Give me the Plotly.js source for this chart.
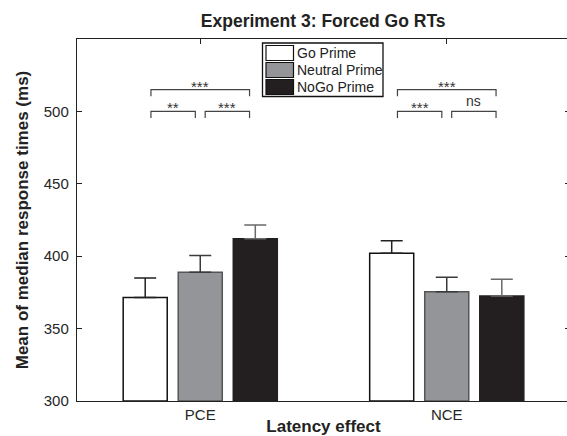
<!DOCTYPE html>
<html>
<head>
<meta charset="utf-8">
<script src="https://cdn.plot.ly/plotly-3.0.1.min.js"></script>
<style>
html,body{margin:0;padding:0;overflow:hidden;background:#fff;}
#chart{width:570px;height:436px;}
</style>
</head>
<body>
<div id="chart"></div>
<script>
// ---- data ----
const categories = ['PCE', 'NCE'];
const seriesNames = ['Go Prime', 'Neutral Prime', 'NoGo Prime'];
const goPrime = [371.5, 402];
const neutralPrime = [389, 375.5];
const nogoPrime = [412, 372.5];
const goPrimeErr = [13.5, 8.7];
const neutralPrimeErr = [11.5, 10];
const nogoPrimeErr = [9.5, 11.5];
const yTickVals = [300, 350, 400, 450, 500];
// significance comparisons (offsets from category centre)
const compLeft = [-0.2, -0.2, 0.02];
const compRight = [0.2, -0.02, 0.2];
const compLevel = [515, 500, 500];
const pceLabels = ['***', '**', '***'];
const nceLabels = ['***', '***', 'ns'];

// ---- styles ----
const fills = ['#ffffff', '#939598', '#231f20'];
const outlines = ['#111111', '#555555', '#231f20'];
const errColors = ['#222222', '#3a3a3a', '#6a6a6a'];
const FONT = 'Liberation Sans, Arial, Helvetica, sans-serif';

const W = 570, H = 436;
const M = {l: 77, r: 0, t: 39, b: 35};
const xPos = categories.map((c, i) => i + 1);
const values = [goPrime, neutralPrime, nogoPrime];
const errs = [goPrimeErr, neutralPrimeErr, nogoPrimeErr];

const traces = values.map((v, k) => ({
  type: 'bar',
  x: xPos,
  y: v.map(d => d - 300),
  base: 300,
  name: seriesNames[k],
  showlegend: false,
  marker: {color: fills[k], line: {color: outlines[k], width: 1.5}},
  error_y: {type: 'data', array: errs[k], arrayminus: errs[k].map(() => 0),
            symmetric: false, color: errColors[k], thickness: 1.5, width: 11},
  hoverinfo: 'skip'
}));

// brackets
const labelsByCat = [pceLabels, nceLabels];
const annotations = [];
xPos.forEach((cx, ci) => {
  compLeft.forEach((lo, j) => {
    const x0 = cx + lo, x1 = cx + compRight[j], yl = compLevel[j];
    traces.push({
      type: 'scatter', mode: 'lines', x: [x0, x0, x1, x1], y: [yl - 4.5, yl, yl, yl - 4.5],
      line: {color: '#444', width: 1.2}, showlegend: false, hoverinfo: 'skip'
    });
    const lab = labelsByCat[ci][j];
    const star = lab.indexOf('*') >= 0;
    annotations.push({
      x: (x0 + x1) / 2, y: yl, xref: 'x', yref: 'y', text: lab, showarrow: false,
      yanchor: 'bottom', yshift: star ? -7 : 0,
      font: {family: FONT, size: star ? 15 : 14, color: '#333'}
    });
  });
});

// custom legend (matlab-style swatches) in paper coordinates
const pw = W - M.l - M.r, ph = H - M.t - M.b;
const px = X => (X - M.l) / pw;
const py = Y => 1 - (Y - M.t) / ph;
const shapes = [{
  type: 'rect', xref: 'paper', yref: 'paper',
  x0: px(262.5), x1: px(383), y0: py(96.5), y1: py(43),
  line: {color: '#111', width: 1.3}, fillcolor: '#fff'
}];
seriesNames.forEach((nm, k) => {
  const top = 45.5 + k * 17;
  shapes.push({
    type: 'rect', xref: 'paper', yref: 'paper',
    x0: px(266), x1: px(293.5), y0: py(top + 15), y1: py(top),
    line: {color: '#111', width: 1.2}, fillcolor: fills[k]
  });
  annotations.push({
    x: px(295), y: py(top + 7.5), xref: 'paper', yref: 'paper', text: nm,
    showarrow: false, xanchor: 'left', yanchor: 'middle',
    font: {family: FONT, size: 14, color: '#222'}
  });
});

const layout = {
  width: W, height: H,
  margin: M,
  paper_bgcolor: '#fff', plot_bgcolor: '#fff',
  barmode: 'group', bargap: 0.33, bargroupgap: 0.2,
  showlegend: false,
  title: {text: '<b>Experiment 3: Forced Go RTs</b>', font: {family: FONT, size: 17.5, color: '#222'},
          x: 0.567, xanchor: 'center', y: 0.951, yanchor: 'middle', yref: 'container'},
  xaxis: {
    range: [0.5, 2.5], tickvals: xPos, ticktext: categories,
    showline: true, mirror: 'ticks', linecolor: '#222', linewidth: 1.2,
    ticks: 'inside', ticklen: 5, tickcolor: '#222', showgrid: false, zeroline: false,
    layer: 'below traces',
    tickfont: {family: FONT, size: 15, color: '#262626'},
    title: {text: '<b>Latency effect</b>', font: {family: FONT, size: 17, color: '#222'}, standoff: 4}
  },
  yaxis: {
    range: [300, 550], tickvals: yTickVals,
    showline: true, mirror: 'ticks', linecolor: '#222', linewidth: 1.2,
    ticks: 'inside', ticklen: 5, tickcolor: '#222', showgrid: false, zeroline: false,
    layer: 'below traces',
    tickfont: {family: FONT, size: 15, color: '#262626'},
    ticklabelstandoff: 4,
    title: {text: '<b>Mean of median response times (ms)</b>', font: {family: FONT, size: 17, color: '#222'}, standoff: 10}
  },
  shapes: shapes,
  annotations: annotations
};

Plotly.newPlot('chart', traces, layout, {staticPlot: true, displayModeBar: false});
</script>
</body>
</html>
